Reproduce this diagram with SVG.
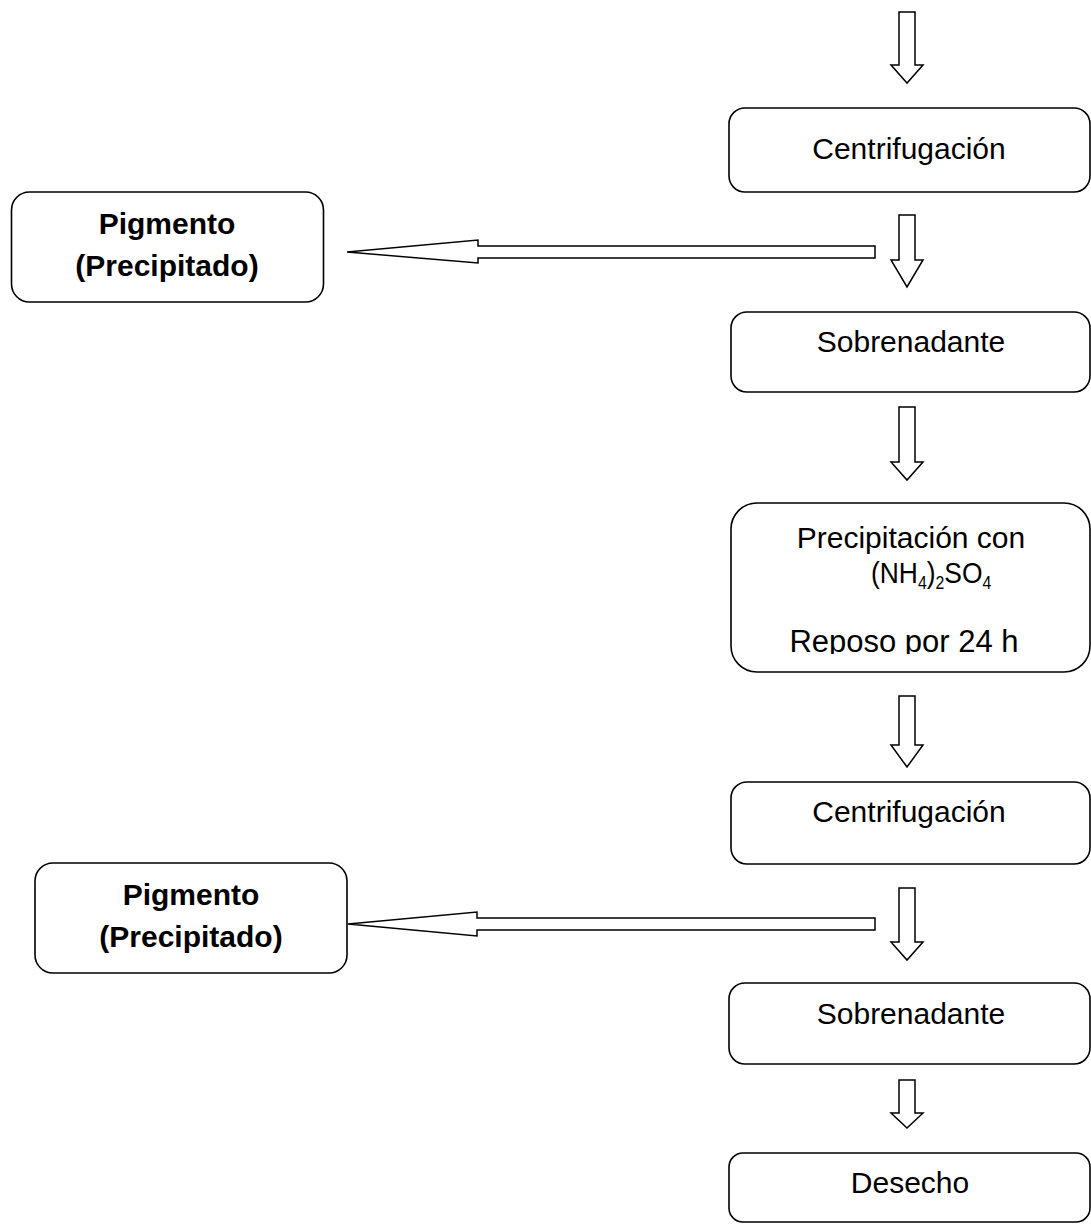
<svg xmlns="http://www.w3.org/2000/svg" width="1091" height="1224" viewBox="0 0 1091 1224">
<style>
.box{fill:#fff;stroke:#000;stroke-width:1.6}
.arr{fill:#fff;stroke:#000;stroke-width:1.5;stroke-linejoin:miter}
.t{font-family:"Liberation Sans",Arial,sans-serif;font-size:30px;fill:#000;text-anchor:middle}
.b{font-weight:bold}
.sub{font-size:18px}
</style>
<defs>
<clipPath id="clipPrec"><rect x="731" y="503" width="360" height="151"/></clipPath>
</defs>
<rect width="1091" height="1224" fill="#fff"/>
<g id="connectors">
<polygon class="arr" points="899,12 915,12 915,65 923,65 907,83 891,65 899,65"/>
<polygon class="arr" points="899,215 915,215 915,260 923,260 907,287 891,260 899,260"/>
<polygon class="arr" points="875,246 875,258 478,258 478,263 347,252 478,240 478,246"/>
<polygon class="arr" points="899,407 915,407 915,462 923,462 907,480 891,462 899,462"/>
<polygon class="arr" points="899,696 915,696 915,745 923,745 907,767 891,745 899,745"/>
<polygon class="arr" points="899,888 915,888 915,942 923,942 907,960 891,942 899,942"/>
<polygon class="arr" points="875,918 875,930 477,930 477,936 348,924 477,912 477,918"/>
<polygon class="arr" points="899,1080 915,1080 915,1113 923,1113 907,1128 891,1113 899,1113"/>
</g>
<g id="centrifugacion1">
<rect class="box" x="729" y="108" width="361" height="84" rx="16"/>
<text class="t" x="909" y="159">Centrifugación</text>
</g>
<g id="pigmento1">
<rect class="box" x="11.5" y="192" width="312" height="110" rx="18"/>
<text class="t b" x="167" y="234">Pigmento</text>
<text class="t b" x="167" y="276">(Precipitado)</text>
</g>
<g id="sobrenadante1">
<rect class="box" x="731" y="312" width="359" height="80" rx="16"/>
<text class="t" x="911" y="352">Sobrenadante</text>
</g>
<g id="precipitacion">
<rect class="box" x="731" y="503" width="359" height="169" rx="26"/>
<text class="t" x="911" y="548">Precipitación con</text>
<g transform="translate(871,583) scale(0.88,1)">
<text class="t" x="0" y="0" style="text-anchor:start">(NH<tspan class="sub" dy="6">4</tspan><tspan dy="-6">)</tspan><tspan class="sub" dy="6">2</tspan><tspan dy="-6">SO</tspan><tspan class="sub" dy="6">4</tspan></text>
</g>
<g clip-path="url(#clipPrec)">
<text class="t" x="904" y="652" style="font-size:31px">Reposo por 24 h</text>
</g>
</g>
<g id="centrifugacion2">
<rect class="box" x="731" y="782" width="359" height="82" rx="16"/>
<text class="t" x="909" y="822">Centrifugación</text>
</g>
<g id="pigmento2">
<rect class="box" x="35" y="863" width="312" height="110" rx="18"/>
<text class="t b" x="191" y="905">Pigmento</text>
<text class="t b" x="191" y="947">(Precipitado)</text>
</g>
<g id="sobrenadante2">
<rect class="box" x="729" y="983" width="361" height="81" rx="16"/>
<text class="t" x="911" y="1024">Sobrenadante</text>
</g>
<g id="desecho">
<rect class="box" x="729" y="1153" width="361" height="69" rx="14"/>
<text class="t" x="910" y="1193">Desecho</text>
</g>
</svg>
